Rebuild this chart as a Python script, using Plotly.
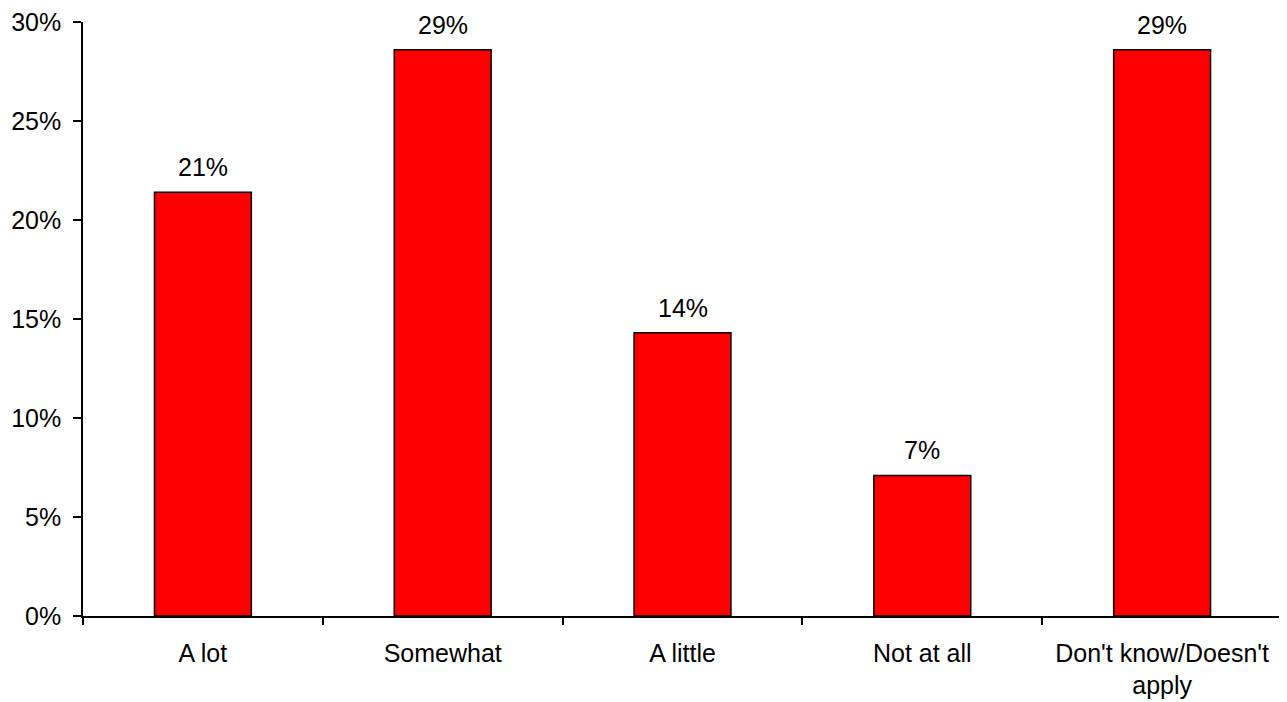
import plotly.graph_objects as go

categories = ["A lot", "Somewhat", "A little", "Not at all", "Don't know/Doesn't<br>apply"]
values = [0.214, 0.286, 0.143, 0.071, 0.286]
y_ticks = [0, 0.05, 0.10, 0.15, 0.20, 0.25, 0.30]
y_tick_labels = ["0%", "5%", "10%", "15%", "20%", "25%", "30%"]

FONT = "Liberation Sans, Arial, sans-serif"

fig = go.Figure()
fig.add_trace(go.Bar(
    x=categories,
    y=values,
    marker=dict(color="#FF0000", line=dict(color="#000000", width=1.5)),
    width=0.404,
))

for c, v in zip(categories, values):
    fig.add_annotation(
        x=c, y=v, text=f"{round(v*100)}%", showarrow=False,
        yanchor="bottom", yshift=9,
        font=dict(family=FONT, size=25, color="#000000"),
    )

fig.update_layout(
    width=1279, height=694,
    margin=dict(l=75, r=5, t=14, b=86, autoexpand=False),
    paper_bgcolor="white", plot_bgcolor="white",
    font=dict(family=FONT, size=25, color="#000000"),
    showlegend=False,
    xaxis=dict(
        showline=True, linecolor="black", linewidth=1.5,
        ticks="outside", tickson="boundaries", ticklen=7, tickcolor="black", tickwidth=1.5,
        showgrid=False, range=[-0.5, 4.5],
        tickfont=dict(size=25), ticklabelstandoff=14, automargin=False,
        ticklabeloverflow="allow",
    ),
    yaxis=dict(
        range=[0, 0.30], tickvals=y_ticks, ticktext=y_tick_labels,
        showline=True, linecolor="black", linewidth=1.5,
        ticks="outside", ticklen=8, tickcolor="black", tickwidth=1.5,
        showgrid=False, zeroline=False,
        tickfont=dict(size=25), ticklabelstandoff=7, automargin=False,
        ticklabeloverflow="allow",
    ),
)

fig.write_html("out.html")
